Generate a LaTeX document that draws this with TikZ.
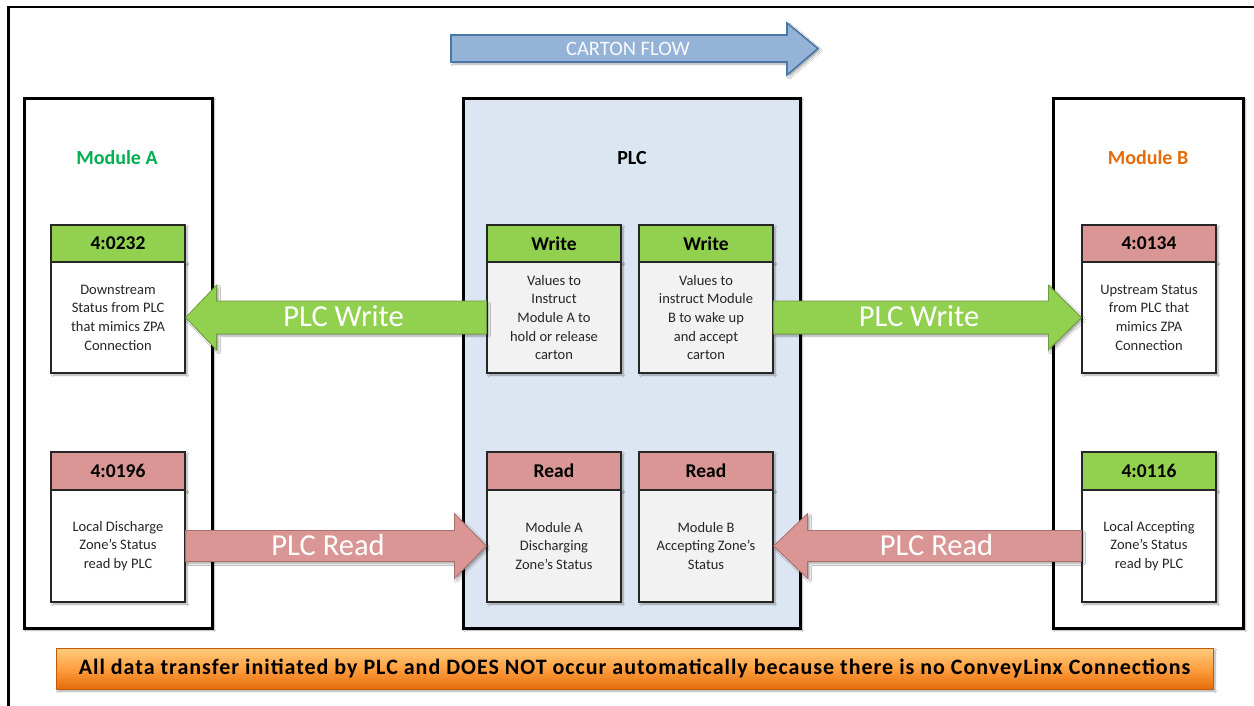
\documentclass[tikz,border=0pt]{standalone}
\usepackage{fontspec}
\setmainfont{Carlito}
\usetikzlibrary{calc,shadows,shadows.blur}

\definecolor{plcfill}{HTML}{DCE6F2}
\definecolor{hgreen}{HTML}{92D050}
\definecolor{hred}{HTML}{D99694}
\definecolor{bodygray}{HTML}{F2F2F2}
\definecolor{labgreen}{HTML}{00B050}
\definecolor{laborange}{HTML}{E46C0A}
\definecolor{flowfill}{HTML}{95B3D7}
\definecolor{flowedge}{HTML}{4A76A8}
\definecolor{gedge}{HTML}{6E9A3E}
\definecolor{redge}{HTML}{A86F6D}
\definecolor{txtgray}{HTML}{262626}

% block arrow between two nodes: style, tail, tip, shaft half, head half, head length, name, label
\newcommand{\blockarrow}[8]{%
  \coordinate (#7-base) at ($(#3)!#6pt!(#2)$);
  \path[#1] ($(#2)+(0,-#4)$) -- ($(#7-base)+(0,-#4)$) -- ($(#7-base)+(0,-#5)$)
    -- (#3) -- ($(#7-base)+(0,#5)$) -- ($(#7-base)+(0,#4)$) -- ($(#2)+(0,#4)$) -- cycle;
  \coordinate (#7-mid) at ($(#2)!0.5!(#7-base)$);
  \node[arrowtext] (#7) at ($(#7-mid)!8pt!(#3)+(0,-1)$) {#8};
}

\begin{document}
\begin{tikzpicture}[x=1pt,y=-1pt,
  softshadow/.style={blur shadow={shadow xshift=2pt,shadow yshift=-2pt,shadow blur steps=6,shadow opacity=35}},
  module/.style={draw=black,line width=3pt,inner sep=0pt,minimum height=530pt,softshadow},
  modlabel/.style={font=\bfseries\fontsize{20}{22}\selectfont},
  hdr/.style={draw=txtgray,line width=1.2pt,inner sep=0pt,minimum width=134pt,
    font=\bfseries\fontsize{19.5}{21}\selectfont,text=black,softshadow},
  bodybox/.style={draw=txtgray,line width=1.2pt,inner sep=0pt,minimum width=134pt,
    align=center,font=\fontsize{14.5}{18.7}\selectfont,text=txtgray,softshadow},
  arrowtext/.style={text=white,font=\fontsize{30.5}{32}\selectfont},
  writearrow/.style={fill=hgreen,draw=gedge,line width=0.8pt,softshadow},
  readarrow/.style={fill=hred,draw=redge,line width=0.8pt,softshadow},
]
\useasboundingbox (0,0) rectangle (1254,705);
\fill[white] (0,0) rectangle (1254,705);

% cropped outer frame
\draw[line width=2.6pt] (8.5,706) -- (8.5,7) -- (1255,7);

% carton flow arrow
\path[fill=flowfill,draw=flowedge,line width=1.6pt,softshadow]
  (451,35) -- (787,35) -- (787,23) -- (818,48.5) -- (787,75) -- (787,62) -- (451,62) -- cycle;
\node[text=white!93!flowfill,font=\fontsize{20.5}{22}\selectfont] (flow) at (628,48.5) {CARTON FLOW};

% three main blocks
\node[module,fill=white,minimum width=188pt] (modA) at (118,363) {};
\node[module,fill=plcfill,minimum width=337pt] (plc) at (631.5,363) {};
\node[module,fill=white,minimum width=190pt] (modB) at (1148,363) {};

\node[modlabel,text=labgreen] (labA) at (117,158) {Module A};
\node[modlabel,text=black] (labP) at (632,158) {PLC};
\node[modlabel,text=laborange] (labB) at (1148,158) {Module B};

% registers in Module A
\node[hdr,fill=hgreen,minimum height=37pt] (hA1) at (118,243.5) {4:0232};
\node[bodybox,fill=white,minimum height=111pt] (bA1) at (118,317.5)
  {Downstream\\Status from PLC\\that mimics ZPA\\Connection};
\node[hdr,fill=hred,minimum height=38pt] (hA2) at (118,471) {4:0196};
\node[bodybox,fill=white,minimum height=112pt] (bA2) at (118,546)
  {Local Discharge\\Zone’s Status\\read by PLC};

% PLC registers
\node[hdr,fill=hgreen,minimum height=37pt] (hW1) at (554,243.5) {Write};
\node[bodybox,fill=bodygray,minimum height=111pt] (bW1) at (554,317.5)
  {Values to\\Instruct\\Module A to\\hold or release\\carton};
\node[hdr,fill=hgreen,minimum height=37pt] (hW2) at (706,243.5) {Write};
\node[bodybox,fill=bodygray,minimum height=111pt] (bW2) at (706,317.5)
  {Values to\\instruct Module\\B to wake up\\and accept\\carton};
\node[hdr,fill=hred,minimum height=38pt] (hR1) at (554,471) {Read};
\node[bodybox,fill=bodygray,minimum height=112pt] (bR1) at (554,546)
  {Module A\\Discharging\\Zone’s Status};
\node[hdr,fill=hred,minimum height=38pt] (hR2) at (706,471) {Read};
\node[bodybox,fill=bodygray,minimum height=112pt] (bR2) at (706,546)
  {Module B\\Accepting Zone’s\\Status};

% registers in Module B
\node[hdr,fill=hred,minimum height=37pt] (hB1) at (1149,243.5) {4:0134};
\node[bodybox,fill=white,minimum height=111pt] (bB1) at (1149,317.5)
  {Upstream Status\\from PLC that\\mimics ZPA\\Connection};
\node[hdr,fill=hgreen,minimum height=38pt] (hB2) at (1149,471) {4:0116};
\node[bodybox,fill=white,minimum height=112pt] (bB2) at (1149,546)
  {Local Accepting\\Zone’s Status\\read by PLC};

% data transfer arrows
\blockarrow{writearrow}{bW1.west}{bA1.east}{16.5}{32.5}{31}{wA}{PLC Write}
\blockarrow{writearrow}{bW2.east}{bB1.west}{16.5}{32.5}{33}{wB}{PLC Write}
\blockarrow{readarrow}{bA2.east}{bR1.west}{15.5}{32.5}{32}{rA}{PLC Read}
\blockarrow{readarrow}{bB2.west}{bR2.east}{15.5}{32.5}{34}{rB}{PLC Read}

% note banner
\node[draw=laborange!85!black,line width=0.8pt,minimum width=1157pt,minimum height=41pt,inner sep=0pt,
  top color=orange!45!white!90!yellow,bottom color=laborange,middle color=orange!75!white,
  font=\bfseries\fontsize{22}{24}\selectfont\addfontfeatures{LetterSpace=4.5},text=black,softshadow] (note) at (634.5,668.5)
  {All data transfer initiated by PLC and DOES NOT occur automatically because there is no ConveyLinx Connections};
\end{tikzpicture}
\end{document}
